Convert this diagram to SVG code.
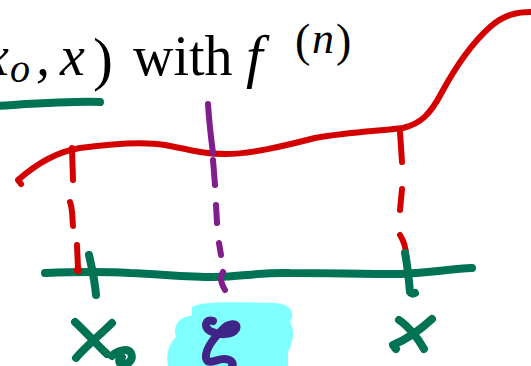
<svg xmlns="http://www.w3.org/2000/svg" width="531" height="366" viewBox="0 0 531 366">
<style>
.s{fill:none;stroke-linecap:round;stroke-linejoin:round}
.red{stroke:#d40000;stroke-width:6}
.grn{stroke:#007355;stroke-width:8}
.pur{stroke:#801e8c;stroke-width:6}
.zeta{stroke:#3f2588;stroke-width:8}
.t{font-family:"Liberation Serif","Times New Roman",serif;fill:#000}
.i{font-style:italic}
</style>
<rect width="531" height="366" fill="#fff"/>
<g id="title">
<text class="t i" x="-16" y="75" font-size="56">x</text>
<text class="t i" x="10" y="82" font-size="40">o</text>
<text class="t i" x="36" y="75" font-size="56">,</text>
<text class="t i" x="60" y="75" font-size="56">x</text>
<text class="t" x="93" y="79" font-size="60">)</text>
<text class="t" x="133" y="75" font-size="56">with</text>
<text class="t i" x="246" y="76" font-size="60">f</text>
<text class="t" x="295" y="56" font-size="46">(</text>
<text class="t i" x="312" y="53" font-size="44">n</text>
<text class="t" x="336" y="56" font-size="46">)</text>
</g>
<g id="underline">
<path class="s grn" stroke-width="10" d="M -5,106 C 30,104 70,101 100,102"/>
</g>
<g id="highlight">
<path fill="#80ffff" d="M 192,307 C 200,301 240,302 275,303 C 290,304 296,312 290,322 C 296,332 292,345 288,352 L 288,366 L 168,366 C 166,355 168,345 176,337 C 172,326 180,315 192,316 Z"/>
</g>
<g id="curve">
<path class="s red" d="M 21,184 L 18,180 C 35,165 55,152 80,148 C 110,144 140,141 165,145 C 190,150 205,154 225,154 C 250,154 280,147 315,138 C 350,132 380,131 403,128 C 420,124 430,115 442,92 C 455,68 470,45 490,27 C 505,14 518,12 531,12"/>
</g>
<g id="axis">
<path class="s grn" d="M 45,273 C 70,272 95,271 130,273 C 160,274 185,277 215,277 C 240,277 260,272 290,273 C 330,273 360,274 400,274 C 430,273 450,269 472,268"/>
</g>
<g id="connectors">
<path class="s red" d="M 72,148 L 73,180 M 70,202 C 73,210 72,218 73,226 M 77,245 L 78,268"/>
<circle cx="78" cy="270" r="4" fill="#d40000"/>
<path class="s red" d="M 400,132 L 402,162 M 402,189 L 400,210 M 400,235 C 405,243 407,252 406,262"/>
<path class="s pur" d="M 208,104 C 209,120 211,138 213,153 M 213,160 L 215,185 M 216,205 L 217,223 M 219,243 L 221,255 M 223,272 C 219,278 222,285 225,290"/>
<path class="s grn" d="M 89,255 C 92,268 95,282 96,295"/>
<path class="s grn" d="M 405,253 C 408,268 409,282 410,292 C 411,294 413,294 415,293"/>
</g>
<g id="label-x0">
<path class="s grn" d="M 75,322 C 87,333 97,345 107,354 M 112,323 C 100,335 85,347 76,358"/>
<path class="s grn" stroke-width="7" d="M 112,356 C 117,350 128,348 131,353 C 134,360 127,366 121,364 C 118,362 119,358 122,357"/>
</g>
<g id="label-zeta">
<path class="s zeta" d="M 213,321 C 206,318 203,327 210,331 C 218,335 232,336 236,329 C 239,322 228,323 222,330 C 213,339 205,349 206,358 C 208,366 216,359 224,359 C 231,359 234,363 232,366"/>
</g>
<g id="label-x">
<path class="s grn" d="M 399,320 C 408,326 418,338 424,349 M 432,319 C 420,330 405,340 393,345 L 396,349"/>
</g>
</svg>
